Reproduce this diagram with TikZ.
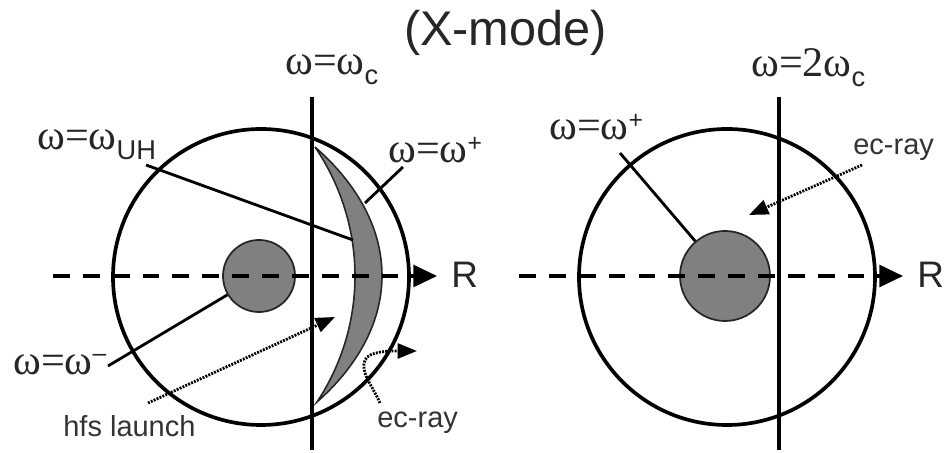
\documentclass[tikz,border=0pt]{standalone}
\usepackage{fontspec}
\setmainfont{Liberation Sans}
\newfontfamily\omfont{Liberation Serif}
\usetikzlibrary{arrows.meta}
\newcommand{\om}{{\omfont ω}}
\newcommand{\eq}{{\omfont =}}
\newcommand{\lowidx}[1]{\raisebox{-5.5pt}{\fontsize{15.5}{15}\selectfont #1}}
\newcommand{\upidx}[1]{\raisebox{6.5pt}{\fontsize{14}{14}\selectfont #1}}
\begin{document}
\begin{tikzpicture}[
  x=0.2mm, y=-0.2mm,
  ring/.style={circle, draw, line width=2.1pt, minimum size=59.2mm, inner sep=0pt},
  core/.style={circle, draw=black!85, line width=1pt, fill=black!50, inner sep=0pt},
  axis/.style={line width=1.8pt, dash pattern=on 9.6pt off 7.4pt, -{Triangle[length=13.5pt, width=12.5pt]}},
  wall/.style={line width=2.2pt},
  wire/.style={line width=1.6pt},
  ray/.style={line width=1.6pt, dash pattern=on 1.1pt off 0.7pt, -{Triangle[length=11pt, width=8.5pt]}},
  omlabel/.style={anchor=base west, inner sep=0pt, text=black!85, font=\fontsize{24}{26}\selectfont},
  raylabel/.style={anchor=base west, inner sep=0pt, text=black!80, font=\fontsize{16.5}{18}\selectfont}
]
  \useasboundingbox (0,0) rectangle (946,453);

  \node[anchor=base, inner sep=0pt, text=black!85, font=\fontsize{27.7}{30}\selectfont] (title) at (505.5,46) {(X-mode)};

  % Left plasma
  \fill[black!50, draw=black!85, line width=0.9pt] (315,147) .. controls (368,225) and (368,325) .. (317,402)
    .. controls (404,325) and (404,225) .. (315,147);
  \node[ring] (ringL) at (261,277) {};
  \node[core, minimum size=14.4mm] (coreL) at (259,276) {};
  \coordinate (wallLtop) at (312,97);
  \coordinate (wallLbot) at (312,450);
  \draw[wall] (wallLtop) -- (wallLbot);
  \coordinate (axisLa) at (53,276);
  \coordinate (axisLb) at (437,276);
  \draw[axis] (axisLa) -- (axisLb);
  \node[anchor=base west, inner sep=0pt, text=black!85, font=\fontsize{21}{23}\selectfont] (axisLR) at (451,288) {R};

  \coordinate (uhA) at (146,165);
  \coordinate (uhB) at (353,240);
  \draw[wire] (uhA) -- (uhB);
  \coordinate (plusA) at (403,167);
  \coordinate (plusB) at (365,203);
  \draw[wire] (plusA) -- (plusB);
  \coordinate (minusA) at (108,366);
  \draw[wire] (minusA) -- (coreL);

  \coordinate (hfsA) at (148,403);
  \coordinate (hfsB) at (335,317);
  \draw[ray] (hfsA) -- (hfsB);
  \coordinate (ecLa) at (380,403);
  \coordinate (ecLb) at (417,351);
  \draw[ray] (ecLa) .. controls (372,385) and (360,372) .. (365,360)
    .. controls (369,351) and (390,351) .. (ecLb);

  \node[omlabel] (labc) at (285,75) {\om\eq\om\lowidx{c}};
  \node[omlabel] (labuh) at (37,150) {\om\eq\om\lowidx{UH}};
  \node[omlabel] (labplus) at (388,163) {\om\eq\om\upidx{+}};
  \node[omlabel] (labminus) at (13,375) {\om\eq\om\upidx{\raisebox{1pt}{–}}};
  \node[raylabel] (labhfs) at (63,437) {hfs launch};
  \node[raylabel] (labecL) at (377,428) {ec-ray};

  % Right plasma
  \node[ring] (ringR) at (727,277) {};
  \node[core, minimum size=18mm] (coreR) at (725,276) {};
  \coordinate (wallRtop) at (779,97);
  \coordinate (wallRbot) at (779,450);
  \draw[wall] (wallRtop) -- (wallRbot);
  \coordinate (axisRa) at (519,276);
  \coordinate (axisRb) at (903,276);
  \draw[axis] (axisRa) -- (axisRb);
  \node[anchor=base west, inner sep=0pt, text=black!85, font=\fontsize{21}{23}\selectfont] (axisRR) at (917,288) {R};

  \coordinate (plusRa) at (620,153);
  \draw[wire] (plusRa) -- (coreR);
  \coordinate (ecRa) at (862,165);
  \coordinate (ecRb) at (749,215);
  \draw[ray] (ecRa) -- (ecRb);

  \node[omlabel] (labtwo) at (751,77) {\om\eq{\omfont 2}\om\lowidx{c}};
  \node[omlabel] (labplusR) at (549,140) {\om\eq\om\upidx{+}};
  \node[raylabel] (labecR) at (853,155) {ec-ray};
\end{tikzpicture}
\end{document}
